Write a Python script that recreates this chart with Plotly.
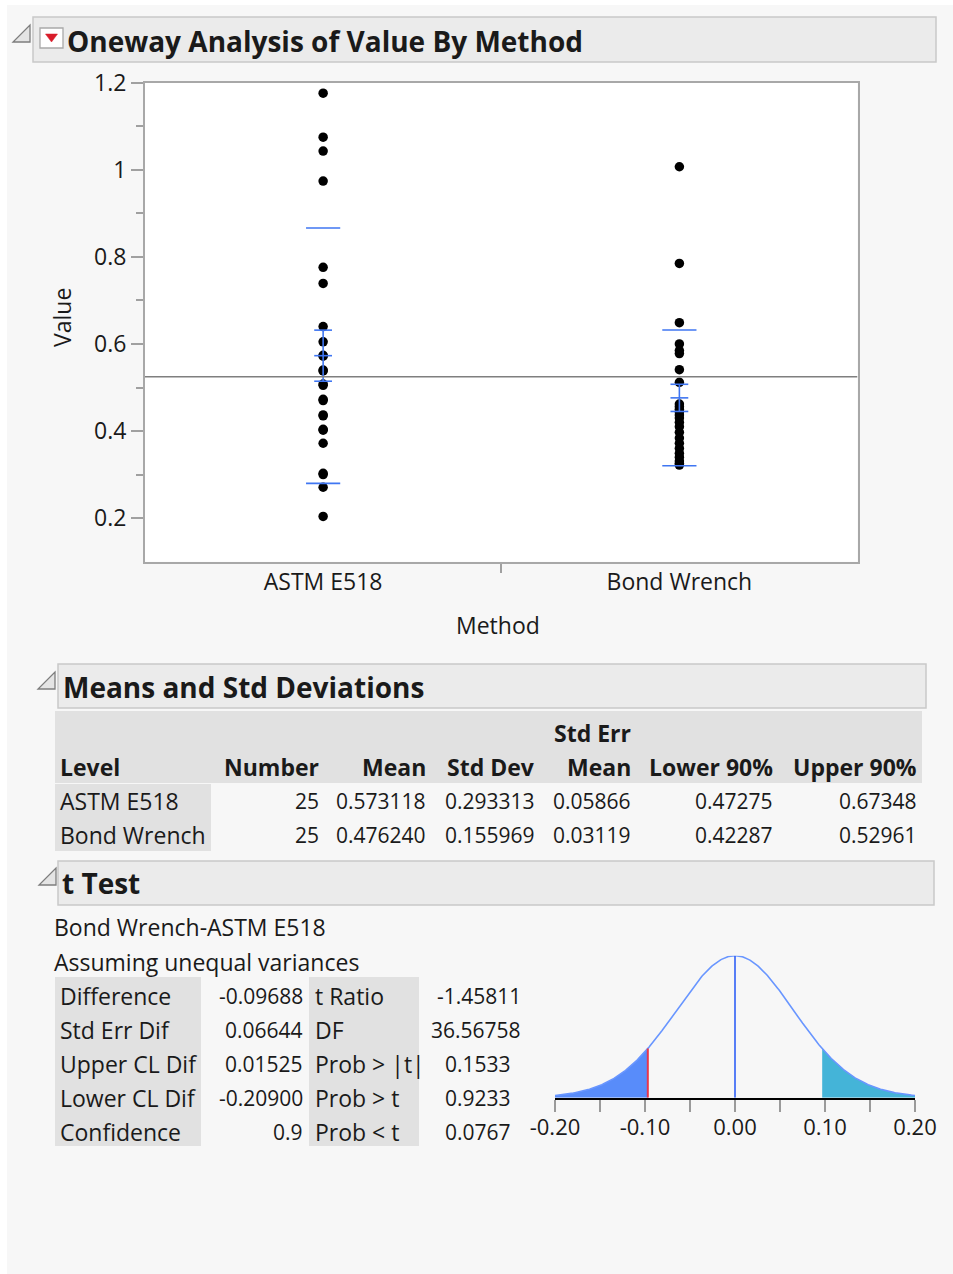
import math
import numpy as np
import plotly.graph_objects as go

# ---------------- data ----------------
methods = ["ASTM E518", "Bond Wrench"]
astm_values = [1.176, 1.075, 1.043, 0.974, 0.776, 0.739, 0.640, 0.605, 0.574, 0.572,
               0.540, 0.538, 0.508, 0.505, 0.473, 0.470, 0.437, 0.435, 0.404, 0.402,
               0.372, 0.303, 0.300, 0.271, 0.204]
bond_values = [1.007, 0.785, 0.649, 0.600, 0.585, 0.578, 0.541, 0.512, 0.462, 0.456,
               0.450, 0.444, 0.437, 0.430, 0.420, 0.410, 0.397, 0.384, 0.372, 0.360,
               0.349, 0.340, 0.331, 0.326, 0.322]

y_tick_vals = [0.2, 0.4, 0.6, 0.8, 1.0, 1.2]
y_tick_text = ["0.2", "0.4", "0.6", "0.8", "1", "1.2"]

# Means and Std Deviations table
tbl_levels = ["ASTM E518", "Bond Wrench"]
tbl_number = ["25", "25"]
tbl_mean = [0.573118, 0.476240]
tbl_sd = [0.293313, 0.155969]
tbl_se = [0.05866, 0.03119]
tbl_lower = [0.47275, 0.42287]
tbl_upper = [0.67348, 0.52961]

# t Test
tt_labels1 = ["Difference", "Std Err Dif", "Upper CL Dif", "Lower CL Dif", "Confidence"]
tt_values1 = ["-0.09688", "0.06644", "0.01525", "-0.20900", "0.9"]
tt_labels2 = ["t Ratio", "DF", "Prob > |t|", "Prob > t", "Prob < t"]
tt_values2 = ["-1.45811", "36.56758", "0.1533", "0.9233", "0.0767"]
t_diff = -0.09688
t_se = 0.06644
t_df = 36.56758
t_tick_vals = [-0.20, -0.10, 0.00, 0.10, 0.20]
t_tick_text = ["-0.20", "-0.10", "0.00", "0.10", "0.20"]

# ---------------- helpers ----------------
W, H = 953, 1274
FONT = "Open Sans"
TXT = "#1a1a1a"
TSIZE = 23   # label text
NSIZE = 21   # numbers
HSIZE = 28   # section headers


def X(px):
    return px / W


def Y(py):
    return 1 - py / H


shapes = []
annotations = []


def rect(x0, y0, x1, y1, fill, line=None, lw=0):
    shapes.append(dict(type="rect", xref="paper", yref="paper",
                       x0=X(x0), x1=X(x1), y0=Y(y1), y1=Y(y0),
                       fillcolor=fill, line=dict(color=line or fill, width=lw),
                       layer="below"))


def poly(pts, fill, line, lw=1.2):
    p = "M " + " L ".join(f"{X(a):.5f},{Y(b):.5f}" for a, b in pts) + " Z"
    shapes.append(dict(type="path", xref="paper", yref="paper", path=p,
                       fillcolor=fill, line=dict(color=line, width=lw), layer="above"))


def text(s, px, py, anchor="left", size=TSIZE, bold=False, color=TXT, **kw):
    if bold:
        s = "<b>" + s + "</b>"
    annotations.append(dict(text=s, x=X(px), y=Y(py), xref="paper", yref="paper",
                            xanchor=anchor, yanchor="middle", showarrow=False,
                            borderpad=0, borderwidth=0,
                            font=dict(family=FONT, size=size, color=color), **kw))


# ---------------- background panels ----------------
rect(7, 5, 953, 1274, "#f7f7f7")
# header bars
rect(33, 17, 936, 62, "#ebebeb", "#c9c9c9", 1.5)
rect(58, 664, 926, 708, "#ebebeb", "#c9c9c9", 1.5)
rect(58, 861, 934, 905, "#ebebeb", "#c9c9c9", 1.5)
# table backgrounds
rect(55, 711, 922, 783, "#e1e1e1")
rect(55, 784, 211, 851, "#e1e1e1")
rect(55, 977, 201, 1146, "#e1e1e1")
rect(309, 977, 419, 1146, "#e1e1e1")
# white plot area
shapes.append(dict(type="rect", xref="x domain", yref="y domain", x0=0, x1=1, y0=0, y1=1,
                   fillcolor="white", line=dict(width=0), layer="below"))

# disclosure triangles
for (tx, ty) in [(13, 25), (38, 672), (39, 868)]:
    poly([(tx, ty + 17), (tx + 17, ty + 17), (tx + 17, ty)], "#e4e4e4", "#7d7d7d", 1.3)
# red dropdown icon
shapes.append(dict(type="rect", xref="paper", yref="paper", x0=X(40), x1=X(63), y0=Y(48), y1=Y(28),
                   fillcolor="white", line=dict(color="#a9a9a9", width=1.3), layer="above"))
poly([(45.5, 34), (57.5, 34), (51.5, 42)], "#d81c2a", "#d81c2a", 0.5)

# ---------------- header texts ----------------
text("Oneway Analysis of Value By Method", 67, 41, size=HSIZE, bold=True)
text("Means and Std Deviations", 63, 687, size=HSIZE, bold=True)
text("t Test", 62, 883, size=HSIZE, bold=True)

# ---------------- Means table ----------------
col_right = [319, 426, 535, 631, 773, 917]
text("Std Err", 631, 733, anchor="right", size=TSIZE, bold=True)
text("Level", 60, 767, size=TSIZE, bold=True)
for name, xr in zip(["Number", "Mean", "Std Dev", "Mean", "Lower 90%", "Upper 90%"], col_right):
    text(name, xr, 767, anchor="right", size=TSIZE, bold=True)
for i, lev in enumerate(tbl_levels):
    yy = 801 + 34 * i
    text(lev, 60, yy, size=TSIZE)
    vals = [tbl_number[i], f"{tbl_mean[i]:.6f}", f"{tbl_sd[i]:.6f}", f"{tbl_se[i]:.5f}",
            f"{tbl_lower[i]:.5f}", f"{tbl_upper[i]:.5f}"]
    for v, xr in zip(vals, col_right):
        text(v, xr, yy, anchor="right", size=NSIZE)

# ---------------- t Test text ----------------
text("Bond Wrench-ASTM E518", 54, 927, size=TSIZE)
text("Assuming unequal variances", 54, 962, size=TSIZE)
v2_right = [521, 521, 511, 511, 511]
for i in range(5):
    yy = 996 + 34 * i
    text(tt_labels1[i], 60, yy, size=TSIZE)
    text(tt_values1[i], 303, yy, anchor="right", size=NSIZE)
    text(tt_labels2[i], 315, yy, size=TSIZE)
    text(tt_values2[i], v2_right[i], yy, anchor="right", size=NSIZE)

# ---------------- axis titles ----------------
text("Method", 498, 625, anchor="center", size=TSIZE)
annotations.append(dict(text="Value", x=X(62), y=Y(318), xref="paper", yref="paper",
                        xanchor="center", yanchor="middle", textangle=-90, showarrow=False,
                        font=dict(family=FONT, size=TSIZE, color=TXT)))

# ---------------- main plot traces ----------------
fig = go.Figure()
groups = [astm_values, bond_values]
for i, vals in enumerate(groups):
    fig.add_trace(go.Scatter(x=[i] * len(vals), y=vals, mode="markers",
                             marker=dict(color="black", size=9.5), xaxis="x", yaxis="y"))

BLUE = "#3f76f2"
for i in range(len(methods)):
    m, s, e = tbl_mean[i], tbl_sd[i], tbl_se[i]
    hw, hs = 0.048, 0.025
    fig.add_trace(go.Scatter(x=[i - hw, i + hw, None, i - hw, i + hw],
                             y=[m + s, m + s, None, m - s, m - s],
                             mode="lines", line=dict(color=BLUE, width=1.6)))
    fig.add_trace(go.Scatter(x=[i - hs, i + hs, None, i - hs, i + hs, None, i - hs, i + hs, None, i, i],
                             y=[m + e, m + e, None, m, m, None, m - e, m - e, None, m - e, m + e],
                             mode="lines", line=dict(color=BLUE, width=1.6)))

grand_mean = float(np.mean(tbl_mean))
fig.add_trace(go.Scatter(x=[-0.5, 1.5], y=[grand_mean, grand_mean], mode="lines",
                         line=dict(color="#7f7f7f", width=1.6)))

# ---------------- t distribution plot ----------------
def t_density(xv):
    c = math.exp(math.lgamma((t_df + 1) / 2) - math.lgamma(t_df / 2)) / math.sqrt(t_df * math.pi)
    tt = np.asarray(xv) / t_se
    return c * (1 + tt ** 2 / t_df) ** (-(t_df + 1) / 2) / t_se


xs = np.linspace(t_tick_vals[0], t_tick_vals[-1], 401)
left = xs[xs <= t_diff]
left = np.append(left, t_diff)
right = xs[xs >= -t_diff]
right = np.insert(right, 0, -t_diff)
fig.add_trace(go.Scatter(x=left, y=t_density(left), fill="tozeroy", mode="lines",
                         line=dict(width=0, color="rgba(0,0,0,0)"), fillcolor="rgb(88,140,250)",
                         xaxis="x2", yaxis="y2"))
fig.add_trace(go.Scatter(x=right, y=t_density(right), fill="tozeroy", mode="lines",
                         line=dict(width=0, color="rgba(0,0,0,0)"), fillcolor="rgb(68,180,216)",
                         xaxis="x2", yaxis="y2"))
fig.add_trace(go.Scatter(x=xs, y=t_density(xs), mode="lines",
                         line=dict(color="rgb(105,150,255)", width=1.6),
                         xaxis="x2", yaxis="y2", cliponaxis=False))
fig.add_trace(go.Scatter(x=[t_diff, t_diff], y=[0, t_density(t_diff)], mode="lines",
                         line=dict(color="#e8364c", width=2), xaxis="x2", yaxis="y2"))
fig.add_trace(go.Scatter(x=[0, 0], y=[0, t_density(0.0)], mode="lines",
                         line=dict(color="#2f5ff5", width=1.6), xaxis="x2", yaxis="y2",
                         cliponaxis=False))

peak = float(t_density(0.0))

fig.update_layout(
    width=W, height=H, margin=dict(l=0, r=0, t=0, b=0, pad=0, autoexpand=False),
    paper_bgcolor="white", plot_bgcolor="rgba(0,0,0,0)", showlegend=False,
    font=dict(family=FONT, color=TXT),
    shapes=shapes, annotations=annotations,
    xaxis=dict(domain=[X(145), X(857.5)], range=[-0.5, 1.5], automargin=False,
               tickvals=[0, 1], ticktext=methods, ticks="",
               tickfont=dict(size=TSIZE, family=FONT, color=TXT), ticklabelstandoff=-1,
               minor=dict(tickvals=[0.5], ticks="outside", ticklen=9, tickcolor="#a0a0a0", tickwidth=1.5),
               showgrid=False, zeroline=False, showline=True, mirror=True,
               linecolor="#a8a8a8", linewidth=2, anchor="y", fixedrange=True),
    yaxis=dict(domain=[Y(561.7), Y(82.7)], range=[0.1, 1.2], automargin=False,
               tickvals=y_tick_vals, ticktext=y_tick_text, ticks="outside", ticklen=12,
               tickcolor="#a0a0a0", tickwidth=1.5,
               tickfont=dict(size=TSIZE, family=FONT, color=TXT), ticklabelstandoff=0,
               minor=dict(tickvals=[0.3, 0.5, 0.7, 0.9, 1.1], ticks="outside", ticklen=7,
                          tickcolor="#a0a0a0", tickwidth=1.5),
               showgrid=False, zeroline=False, showline=True, mirror=True,
               linecolor="#a8a8a8", linewidth=2, anchor="x", fixedrange=True),
    xaxis2=dict(domain=[X(555), X(915)], range=[t_tick_vals[0], t_tick_vals[-1]], automargin=False,
                tickvals=t_tick_vals, ticktext=t_tick_text, ticks="outside", ticklen=12,
                tickcolor="#9a9a9a", tickwidth=1.5,
                tickfont=dict(size=22, family=FONT, color=TXT), ticklabelstandoff=-3,
                minor=dict(tickvals=[-0.15, -0.05, 0.05, 0.15], ticks="outside", ticklen=12,
                           tickcolor="#9a9a9a", tickwidth=1.5),
                showgrid=False, zeroline=False, showline=True, linecolor="black", linewidth=2,
                anchor="y2", fixedrange=True),
    yaxis2=dict(domain=[Y(1097.7), Y(955.7)], range=[0, peak], visible=False, automargin=False,
                anchor="x2", fixedrange=True),
)

fig.write_html("out.html", config={"displayModeBar": False},
               post_script="document.body.style.margin='0px';")
